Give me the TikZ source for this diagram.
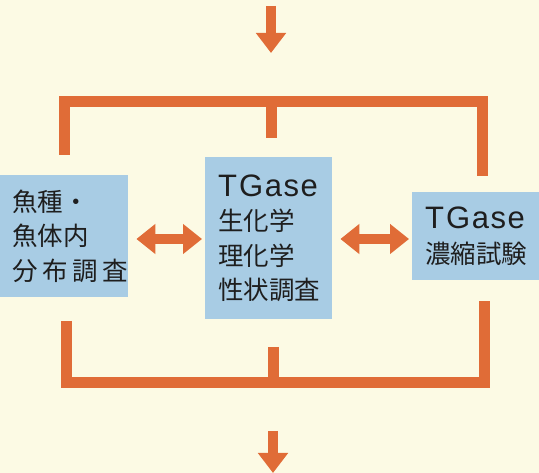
\documentclass[tikz,border=0pt]{standalone}
\usepackage{fontspec}
\setmainfont{Liberation Sans}
\newfontfamily\jp{Noto Sans CJK JP}
\newfontfamily\lat[LetterSpace=5]{Liberation Sans}
\usetikzlibrary{arrows.meta}
\definecolor{bgc}{RGB}{252,250,228}
\definecolor{orng}{RGB}{224,108,55}
\definecolor{boxb}{RGB}{168,204,228}
\definecolor{ink}{RGB}{30,30,30}
\tikzset{
  box/.style={fill=boxb, inner sep=0pt, anchor=north west, align=left, text=ink,
    font=\jp\fontsize{25.5}{34.5}\selectfont},
  bar/.style={draw=orng, line width=11pt, line join=miter, line cap=butt},
  downarrow/.style={draw=orng, line width=10pt, -{Triangle[width=29pt,length=20pt]}},
  dbl/.style={draw=orng, line width=10pt,
    {Triangle[width=29pt,length=19pt]}-{Triangle[width=29pt,length=19pt]}},
}
\newcommand{\tg}{{\lat\fontsize{31}{34.5}\selectfont T\kern2pt Gase}}
\begin{document}
\begin{tikzpicture}[x=1pt,y=-1pt]
\fill[bgc] (0,0) rectangle (539,473);
\useasboundingbox (0,0) rectangle (539,473);
% boxes
\node[box, minimum width=128pt, minimum height=122pt, inner xsep=12pt, text width=104pt] (L) at (0,175)
  {魚種・\\魚体内\\\makebox[\linewidth][l]{分\hspace{4.5pt}布\hspace{4.5pt}調\hspace{4.5pt}査}};
\node[box, minimum width=127pt, minimum height=162pt, inner xsep=13pt, text width=101pt] (M) at (205,157)
  {\tg\\生化学\\理化学\\性状調査};
\node[box, minimum width=127pt, minimum height=88pt, inner xsep=13pt, text width=101pt] (R) at (412,192)
  {\tg\\濃縮試験};
% bracket end points
\coordinate (tL) at (64,155);
\coordinate (tM) at (271,138);
\coordinate (tR) at (482,176);
\coordinate (bL) at (66,321);
\coordinate (bM) at (273,347);
\coordinate (bR) at (484,301);
% in / out arrows
\coordinate (inA) at (271,6);
\coordinate (inB) at (271,53);
\coordinate (outA) at (273,431);
\coordinate (outB) at (273,473);
\draw[downarrow] (inA) -- (inB);
\draw[downarrow] (outA) -- (outB);
% top bracket
\draw[bar] (tL) -- (tL |- 0,102) -- (tR |- 0,102) -- (tR);
\draw[bar] (tM |- 0,102) -- (tM);
% bottom bracket
\draw[bar] (bL) -- (bL |- 0,383) -- (bR |- 0,383) -- (bR);
\draw[bar] (bM) -- (bM |- 0,383);
% double arrows
\draw[dbl, shorten <=8pt, shorten >=3pt] (L.east |- 0,239) -- (M.west |- 0,239);
\draw[dbl, shorten <=8pt, shorten >=3pt] (M.east |- 0,239) -- (R.west |- 0,239);
\end{tikzpicture}
\end{document}
